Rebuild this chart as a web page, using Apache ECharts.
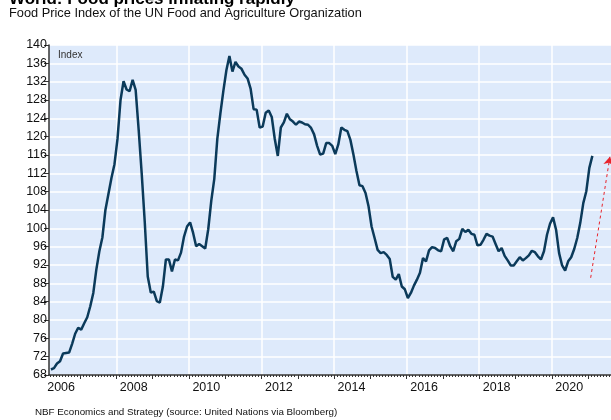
<!DOCTYPE html>
<html>
<head>
<meta charset="utf-8">
<script src="https://cdn.jsdelivr.net/npm/echarts@6/dist/echarts.min.js"></script>
<style>
  html, body { margin: 0; padding: 0; background: #fff; }
  #chart { width: 611px; height: 420px; }
</style>
</head>
<body>
<div id="chart"></div>
<script>
// FAO food price index, monthly, starting March 2006
const startYear = 2006
const startMonth = 3
const foodIndex = [
  69.2, 69.5, 70.5, 71.0, 72.7, 72.8, 72.9, 74.8, 77.0, 78.3,                  // 2006 (Mar-Dec)
  77.9, 79.3, 80.6, 83.0, 85.9, 91.0, 95.0, 98.0, 104.0, 107.5, 111.0, 114.0,   // 2007
  119.5, 128.0, 132.1, 130.3, 129.9, 132.4, 130.2, 121.5, 112.0, 101.5, 89.5, 86.0, // 2008
  86.2, 84.1, 83.8, 87.3, 93.2, 93.2, 90.6, 93.2, 93.0, 94.7, 98.2, 100.4,      // 2009
  101.3, 99.0, 96.1, 96.6, 96.1, 95.6, 99.8, 106.0, 110.8, 119.5, 125.0, 130.0, // 2010
  134.5, 137.6, 134.2, 136.3, 135.3, 134.8, 133.5, 132.7, 130.5, 126.0, 125.9, 122.0, // 2011
  122.2, 125.2, 125.7, 124.3, 119.5, 115.8, 122.0, 123.1, 125.0, 123.8, 123.3, 122.6, // 2012
  123.3, 123.1, 122.7, 122.6, 121.9, 120.5, 118.0, 116.1, 116.3, 118.6, 118.6, 118.0, // 2013
  116.2, 118.3, 122.0, 121.5, 121.2, 119.3, 116.1, 112.5, 109.4, 109.2, 107.7, 104.8, // 2014
  100.4, 97.9, 95.3, 94.6, 94.8, 94.2, 93.3, 89.4, 88.8, 90.0, 87.3, 86.7,      // 2015
  84.8, 85.9, 87.5, 88.8, 90.3, 93.5, 92.8, 95.2, 95.9, 95.7, 95.2, 95.0,       // 2016
  97.6, 97.9, 96.1, 95.0, 97.2, 97.7, 99.9, 99.2, 99.7, 98.8, 98.6, 96.3,       // 2017
  96.4, 97.5, 98.8, 98.4, 98.2, 96.6, 95.0, 95.7, 94.0, 93.0, 91.9, 91.9,       // 2018
  92.8, 93.7, 93.0, 93.5, 94.1, 95.1, 94.8, 93.9, 93.2, 95.0, 98.6, 101.0,      // 2019
  102.4, 99.7, 94.6, 91.9, 90.8, 92.8, 93.7, 95.5, 97.9, 101.2, 105.5, 108.1,   // 2020
  113.2, 115.8                                                                   // 2021 (Jan-Feb)
]
const labelYears = [2006, 2008, 2010, 2012, 2014, 2016, 2018, 2020]
const gridYears = [2008, 2010, 2012, 2014, 2016, 2018, 2020]
const yMin = 68, yMax = 140, yStep = 4
// red dashed arrow (year, index)
const arrowFrom = [2021.07, 89.2]
const arrowTo = [2021.6, 115.6]

const xMin = 2006.146, xMax = 2021.63
const font = 'Liberation Sans, Arial, sans-serif'

// point near middle of the month
const lineData = foodIndex.map((v, i) => [startYear + (startMonth - 1 + i + 0.4) / 12, v])

let monthTicks = []
for (let y = 2006; y < 2022; y++) {
  for (let m = 0; m < 12; m++) monthTicks.push(y + m / 12)
}
let yearTicks = []
for (let y = 2007; y < 2022; y++) yearTicks.push(y)

const mychart = echarts.init(document.getElementById('chart'), null, { renderer: 'canvas' })
mychart.setOption({
  animation: false,
  title: [
    {
      text: 'World: Food prices inflating rapidly',
      left: 4, top: -14,
      textStyle: { fontFamily: font, fontSize: 17, fontWeight: 'bold', color: '#000' }
    },
    {
      text: 'Food Price Index of the UN Food and Agriculture Organization',
      left: 4, top: 2,
      textStyle: { fontFamily: font, fontSize: 12.8, fontWeight: 'normal', color: '#111' }
    },
    {
      text: 'NBF Economics and Strategy (source: United Nations via Bloomberg)',
      left: 30, top: 402,
      textStyle: { fontFamily: font, fontSize: 9.8, fontWeight: 'normal', color: '#111' }
    },
    {
      text: 'Index',
      left: 53, top: 45,
      textStyle: { fontFamily: font, fontSize: 10, fontWeight: 'normal', color: '#333' }
    }
  ],
  grid: {
    left: 49, top: 45, right: 0, bottom: 45,
    show: true, backgroundColor: '#deeafb', borderWidth: 0
  },
  xAxis: [
    {
      type: 'value', min: xMin, max: xMax, position: 'bottom',
      axisLine: { show: true, lineStyle: { color: '#333', width: 1.5 } },
      axisTick: { show: true, customValues: monthTicks, length: 2, lineStyle: { color: '#333', width: 1 } },
      axisLabel: {
        customValues: labelYears.map(y => y + 0.48),
        formatter: v => String(Math.floor(v)),
        fontFamily: font, fontSize: 12.5, color: '#111', margin: 6
      },
      splitLine: { show: false }
    },
    {
      type: 'value', min: xMin, max: xMax, position: 'bottom',
      axisLine: { show: false },
      axisTick: { show: true, customValues: yearTicks, length: 4, lineStyle: { color: '#333', width: 1 } },
      axisLabel: { show: false },
      splitLine: { show: false }
    },
    {
      type: 'value', min: xMin, max: xMax, position: 'bottom',
      axisLine: { show: false },
      axisTick: { show: false, customValues: gridYears },
      axisLabel: { show: false },
      splitLine: { show: true, lineStyle: { color: '#ffffff', width: 1.5 } }
    }
  ],
  yAxis: {
    type: 'value', min: yMin, max: yMax, interval: yStep,
    axisLine: { show: true, lineStyle: { color: '#333', width: 1.5 } },
    axisTick: { show: true, length: 5, lineStyle: { color: '#333' } },
    axisLabel: { fontFamily: font, fontSize: 12.5, color: '#111', margin: 2 },
    splitLine: { show: true, lineStyle: { color: '#ffffff', width: 1.5 } }
  },
  series: [
    {
      type: 'line',
      data: lineData,
      showSymbol: false,
      lineStyle: { color: '#0b3a5a', width: 2.5 },
      z: 5,
      markLine: {
        silent: true,
        symbol: ['none', 'arrow'],
        symbolSize: 8,
        label: { show: false },
        lineStyle: { color: '#e8232b', type: [3, 3], width: 1 },
        data: [[{ coord: arrowFrom }, { coord: arrowTo }]]
      }
    }
  ]
})
</script>
</body>
</html>
